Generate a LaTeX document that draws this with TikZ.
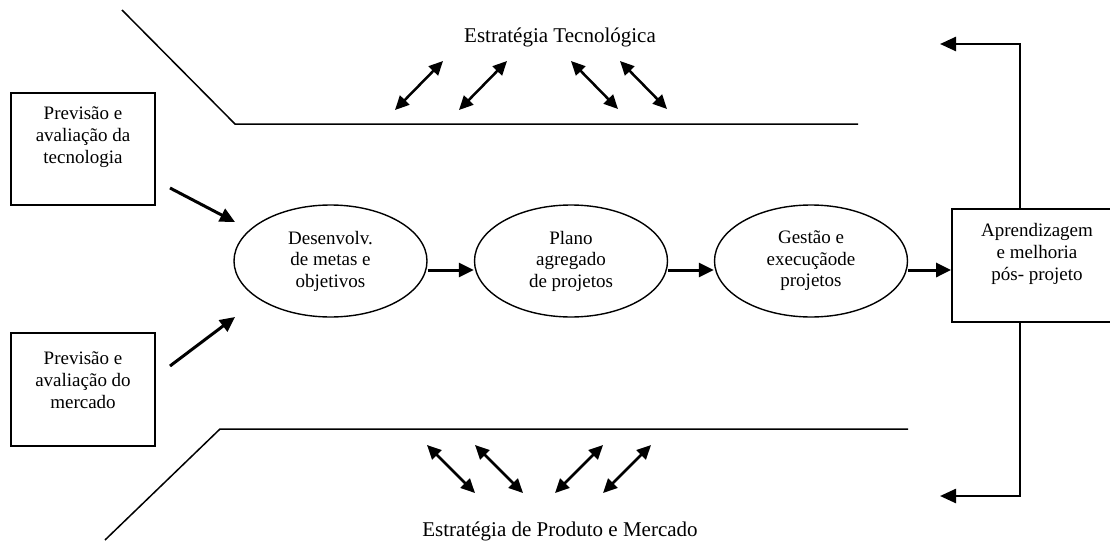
\documentclass[tikz,border=0pt]{standalone}
\usepackage{fontspec}
\setmainfont{Liberation Serif}
\usetikzlibrary{arrows.meta,shapes.geometric,calc}
\begin{document}
\begin{tikzpicture}[x=1pt,y=-1pt,
  boxshape/.style={draw, line width=1.8pt, inner sep=0pt},
  txt/.style={align=center, font=\fontsize{19}{22}\selectfont, inner sep=0pt},
  oval/.style={ellipse, draw, line width=1.4pt, minimum width=193pt, minimum height=112pt, inner sep=0pt, align=center, font=\fontsize{19}{21.5}\selectfont},
  strat/.style={line width=1.5pt},
  flow/.style={line width=3pt, -{Triangle[length=15pt,width=14pt]}},
  feedback/.style={line width=2.5pt, -{Triangle[length=16pt,width=14pt]}},
  dbl/.style={line width=2.5pt, {Triangle[length=14pt,width=13pt]}-{Triangle[length=14pt,width=13pt]}},
  title/.style={font=\fontsize{21}{25}\selectfont, inner sep=0pt}]
\useasboundingbox (0,0) rectangle (1110,543);

% strategy lines
\draw[strat] (122,10) -- (235,124) -- (858,124);
\draw[strat] (908,429) -- (220,429) -- (105,540);

% titles
\node[title] (ttop) at (560,37) {Estratégia Tecnológica};
\node[title] (tbot) at (560,531) {Estratégia de Produto e Mercado};

% left boxes
\node[boxshape, minimum width=144pt, minimum height=112pt] (b1) at (83,149) {};
\node[txt] (b1t) at (83,137) {Previsão e\\avaliação da\\tecnologia};
\node[boxshape, minimum width=144pt, minimum height=113pt] (b2) at (83,389.5) {};
\node[txt] (b2t) at (83,380) {Previsão e\\avaliação do\\mercado};

% right box
\node[boxshape, minimum width=178pt, minimum height=113pt] (b4) at (1041,265.5) {};
\node[txt] (b4t) at (1037,254) {Aprendizagem\\e melhoria\\pós- projeto};

% ellipses
\node[oval] (e1) at (330.5,261) {Desenvolv.\\de metas e\\objetivos};
\node[oval] (e2) at (571,261) {Plano\\agregado\\de projetos};
\node[oval] (e3) at (811,261) {Gestão e\\execuçãode\\projetos};

% main flow
\coordinate (row) at (0,270);
\draw[flow] (e1.east |- row) -- (e2.west |- row);
\draw[flow] (e2.east |- row) -- (e3.west |- row);
\draw[flow] (e3.east |- row) -- (b4.west |- row);

% inputs
\coordinate (i1s) at (170,188);
\coordinate (i1e) at (235,222);
\coordinate (i2s) at (170,366);
\coordinate (i2e) at (235,317);
\draw[flow] (i1s) -- (i1e);
\draw[flow] (i2s) -- (i2e);

% feedback
\coordinate (fbtop) at (940,44);
\coordinate (fbbot) at (940,496);
\draw[feedback] ([xshift=-21pt]b4.north) |- (fbtop);
\draw[feedback] ([xshift=-21pt]b4.south) |- (fbbot);

% double arrows top
\coordinate (t1a) at (395,110); \coordinate (t1b) at (443,61);
\coordinate (t2a) at (459,110); \coordinate (t2b) at (507,61);
\coordinate (t3a) at (571,61);  \coordinate (t3b) at (618,109);
\coordinate (t4a) at (620,61);  \coordinate (t4b) at (667,109);
\draw[dbl] (t1a) -- (t1b);
\draw[dbl] (t2a) -- (t2b);
\draw[dbl] (t3a) -- (t3b);
\draw[dbl] (t4a) -- (t4b);

% double arrows bottom
\coordinate (u1a) at (427,445); \coordinate (u1b) at (475,493);
\coordinate (u2a) at (475,445); \coordinate (u2b) at (523,493);
\coordinate (u3a) at (555,493); \coordinate (u3b) at (603,445);
\coordinate (u4a) at (603,493); \coordinate (u4b) at (651,445);
\draw[dbl] (u1a) -- (u1b);
\draw[dbl] (u2a) -- (u2b);
\draw[dbl] (u3a) -- (u3b);
\draw[dbl] (u4a) -- (u4b);
\end{tikzpicture}
\end{document}
